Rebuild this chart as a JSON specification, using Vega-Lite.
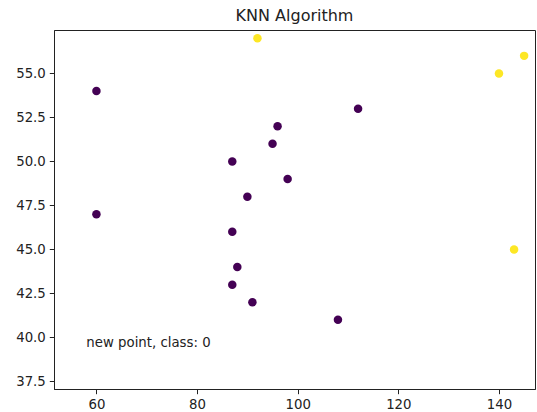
{
  "$schema": "https://vega.github.io/schema/vega-lite/v6.json",
  "width": 481,
  "height": 359,
  "autosize": "none",
  "padding": {"left": 54, "top": 30, "right": 2, "bottom": 23},
  "background": "white",
  "config": {
    "font": "DejaVu Sans",
    "view": {"stroke": "#222222", "strokeWidth": 1},
    "axis": {
      "grid": false,
      "domainColor": "#222222",
      "tickColor": "#222222",
      "tickSize": 4.7,
      "labelColor": "#222222",
      "labelFontSize": 13.3,
      "labelFont": "DejaVu Sans",
      "labelPadding": 4,
      "title": null
    }
  },
  "title": {
    "text": "KNN Algorithm",
    "font": "DejaVu Sans",
    "fontSize": 16,
    "fontWeight": "normal",
    "color": "#222222",
    "anchor": "middle",
    "offset": 6
  },
  "datasets": {
    "points": [
      {"x": 60, "y": 54, "cls": 0},
      {"x": 60, "y": 47, "cls": 0},
      {"x": 87, "y": 50, "cls": 0},
      {"x": 90, "y": 48, "cls": 0},
      {"x": 95, "y": 51, "cls": 0},
      {"x": 96, "y": 52, "cls": 0},
      {"x": 98, "y": 49, "cls": 0},
      {"x": 112, "y": 53, "cls": 0},
      {"x": 87, "y": 46, "cls": 0},
      {"x": 88, "y": 44, "cls": 0},
      {"x": 87, "y": 43, "cls": 0},
      {"x": 91, "y": 42, "cls": 0},
      {"x": 108, "y": 41, "cls": 0},
      {"x": 92, "y": 57, "cls": 1},
      {"x": 140, "y": 55, "cls": 1},
      {"x": 145, "y": 56, "cls": 1},
      {"x": 143, "y": 45, "cls": 1}
    ],
    "notes": [
      {"x": 58, "y": 39.45, "label": "new point, class: 0"}
    ]
  },
  "layer": [
    {
      "data": {"name": "points"},
      "mark": {"type": "point", "filled": true, "opacity": 1, "size": 72},
      "encoding": {
        "x": {"field": "x", "type": "quantitative",
              "scale": {"domain": [51.57, 147.16], "nice": false, "zero": false},
              "axis": {"values": [60, 80, 100, 120, 140]}},
        "y": {"field": "y", "type": "quantitative",
              "scale": {"domain": [37.07, 57.47], "nice": false, "zero": false},
              "axis": {"values": [37.5, 40, 42.5, 45, 47.5, 50, 52.5, 55], "format": ".1f"}},
        "color": {"field": "cls", "type": "nominal",
                  "scale": {"domain": [0, 1], "range": ["#440154", "#fde725"]},
                  "legend": null}
      }
    },
    {
      "data": {"name": "notes"},
      "mark": {"type": "text", "align": "left", "baseline": "alphabetic",
               "font": "DejaVu Sans", "fontSize": 13.3, "color": "#222222"},
      "encoding": {
        "x": {"field": "x", "type": "quantitative"},
        "y": {"field": "y", "type": "quantitative"},
        "text": {"field": "label"}
      }
    }
  ]
}
